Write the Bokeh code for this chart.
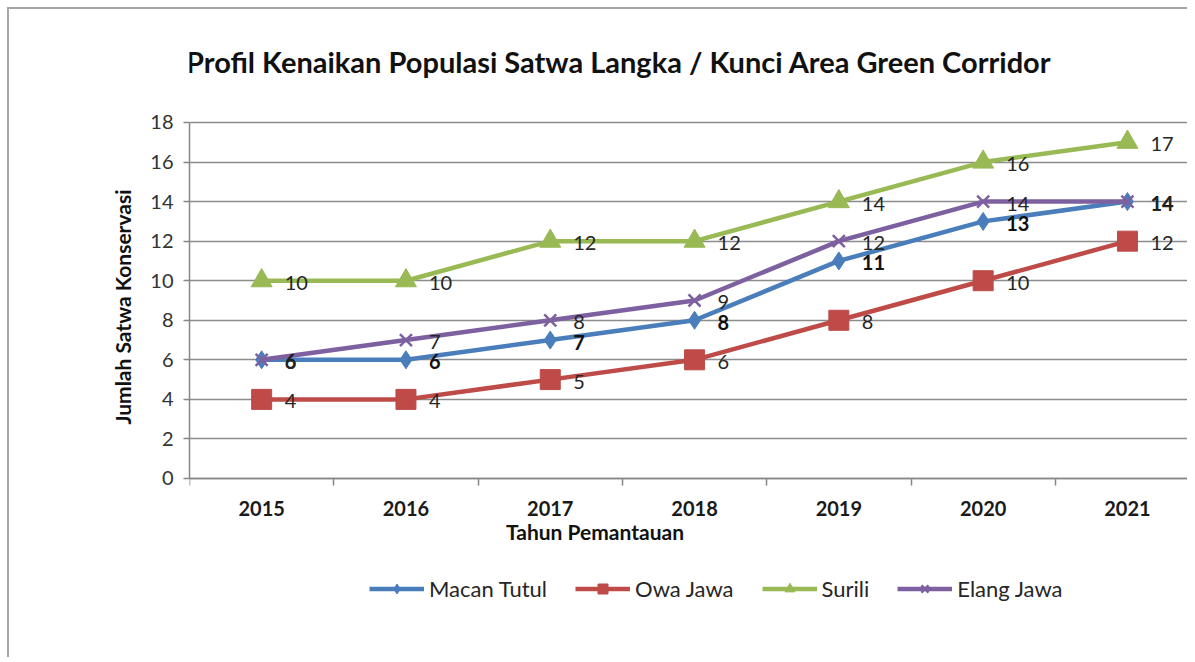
from bokeh.plotting import figure
from bokeh.models import (ColumnDataSource, Range1d, FixedTicker, Legend, LegendItem,
                          LabelSet, Label)
from bokeh.core.properties import value
from bokeh.embed import file_html
from bokeh.resources import INLINE

years = ["2015", "2016", "2017", "2018", "2019", "2020", "2021"]
macan_tutul = [6, 6, 7, 8, 11, 13, 14]
owa_jawa = [4, 4, 5, 6, 8, 10, 12]
surili = [10, 10, 12, 12, 14, 16, 17]
elang_jawa = [6, 7, 8, 9, 12, 14, 14]
series_names = ["Macan Tutul", "Owa Jawa", "Surili", "Elang Jawa"]
y_ticks = [0, 2, 4, 6, 8, 10, 12, 14, 16, 18]
title_text = "Profil Kenaikan Populasi Satwa Langka / Kunci Area Green Corridor"
x_label = "Tahun Pemantauan"
y_label = "Jumlah Satwa Konservasi"

FONT = "Lato"
GRID = "#8c8c8c"
AXIS = "#868686"
TXT = "#262626"

xs = list(range(len(years)))

# frame covers the whole canvas except the left (y axis) and the below axis panel;
# y range extended so that title / legend annotations lie inside the frame
p = figure(width=1180, height=650, output_backend="svg", toolbar_location=None,
           x_range=Range1d(-0.5, 6.43), y_range=Range1d(-6.371, 23.713),
           min_border_left=180, min_border_right=0, min_border_top=0,
           min_border_bottom=55)
p.styles = {"margin-top": "7px", "margin-left": "7px",
            "border-top": "2px solid #a6a6a6", "border-left": "2px solid #a6a6a6"}
p.outline_line_color = None
p.background_fill_color = "white"
p.border_fill_color = "white"

p.xgrid.visible = False
p.ygrid.grid_line_color = GRID
p.ygrid.grid_line_width = 1.5
p.ygrid.ticker = FixedTicker(ticks=y_ticks)

# x axis drawn at y = 0
xa = p.xaxis[0]
xa.fixed_location = 0
xa.ticker = FixedTicker(ticks=xs, minor_ticks=[i - 0.5 for i in range(len(years) + 1)])
xa.major_label_overrides = {i: y for i, y in enumerate(years)}
xa.major_tick_line_color = None
xa.major_tick_out = 0
xa.major_tick_in = 0
xa.minor_tick_line_color = AXIS
xa.minor_tick_line_width = 1.5
xa.minor_tick_out = 7
xa.minor_tick_in = 0
xa.axis_line_color = AXIS
xa.axis_line_width = 1.5
xa.major_label_standoff = 16
xa.major_label_text_font = FONT
xa.major_label_text_font_size = "20px"
xa.major_label_text_font_style = "bold"
xa.major_label_text_color = "#1a1a1a"

# y axis
ya = p.yaxis[0]
ya.bounds = (0, 18)
ya.ticker = FixedTicker(ticks=y_ticks, minor_ticks=[])
ya.major_tick_line_color = AXIS
ya.major_tick_line_width = 1.5
ya.major_tick_out = 6
ya.major_tick_in = 0
ya.axis_line_color = AXIS
ya.axis_line_width = 1.5
ya.major_label_standoff = 10
ya.major_label_text_font = FONT
ya.major_label_text_font_size = "20px"
ya.major_label_text_color = "#333333"
ya.axis_label = y_label
ya.axis_label_text_font = FONT
ya.axis_label_text_font_size = "21px"
ya.axis_label_text_font_style = "bold"
ya.axis_label_text_color = "#111111"
ya.axis_label_standoff = 12

colors = ["#4a7ebb", "#be4b48", "#98b954", "#7d60a0"]
markers = ["diamond", "square", "triangle", "x"]
sizes = [18, 20, 21, 17]
data = [macan_tutul, owa_jawa, surili, elang_jawa]
bold = [True, False, False, False]

items = []
for name, vals, c, m, s, b in zip(series_names, data, colors, markers, sizes, bold):
    src = ColumnDataSource(dict(x=xs, y=vals, t=[str(v) for v in vals]))
    lr = p.line("x", "y", source=src, line_color=c, line_width=4.5)
    if m == "x":
        sr = p.scatter("x", "y", source=src, marker=m, size=s, line_color=c, line_width=2.5)
    else:
        sr = p.scatter("x", "y", source=src, marker=m, size=s, fill_color=c, line_color=c)
    items.append(LegendItem(label=name, renderers=[lr, sr]))
    ls = LabelSet(x="x", y="y", text="t", source=src, x_offset=23, y_offset=-2,
                  text_baseline="middle", text_align="left", text_font=value(FONT),
                  text_font_size="20px", text_color="#111111" if b else TXT,
                  text_font_style="bold" if b else "normal")
    p.add_layout(ls)

# chart title
p.add_layout(Label(x=2.475, y=21.08, text=title_text, text_align="center",
                   text_baseline="middle", text_font=FONT, text_font_size="29px",
                   text_font_style="bold", text_color="#111111"))
# x axis title
p.add_layout(Label(x=2.31, y=-2.68, text=x_label, text_align="center",
                   text_baseline="middle", text_font=FONT, text_font_size="21px",
                   text_font_style="bold", text_color="#111111"))

legend = Legend(items=items, orientation="horizontal", location=(180, 2),
                glyph_width=55, glyph_height=25, label_standoff=5, spacing=28,
                padding=0, margin=0, border_line_color=None,
                background_fill_alpha=0, label_text_font=FONT,
                label_text_font_size="22px", label_text_color=TXT)
p.add_layout(legend)

open("out.html", "w").write(file_html(p, INLINE))
